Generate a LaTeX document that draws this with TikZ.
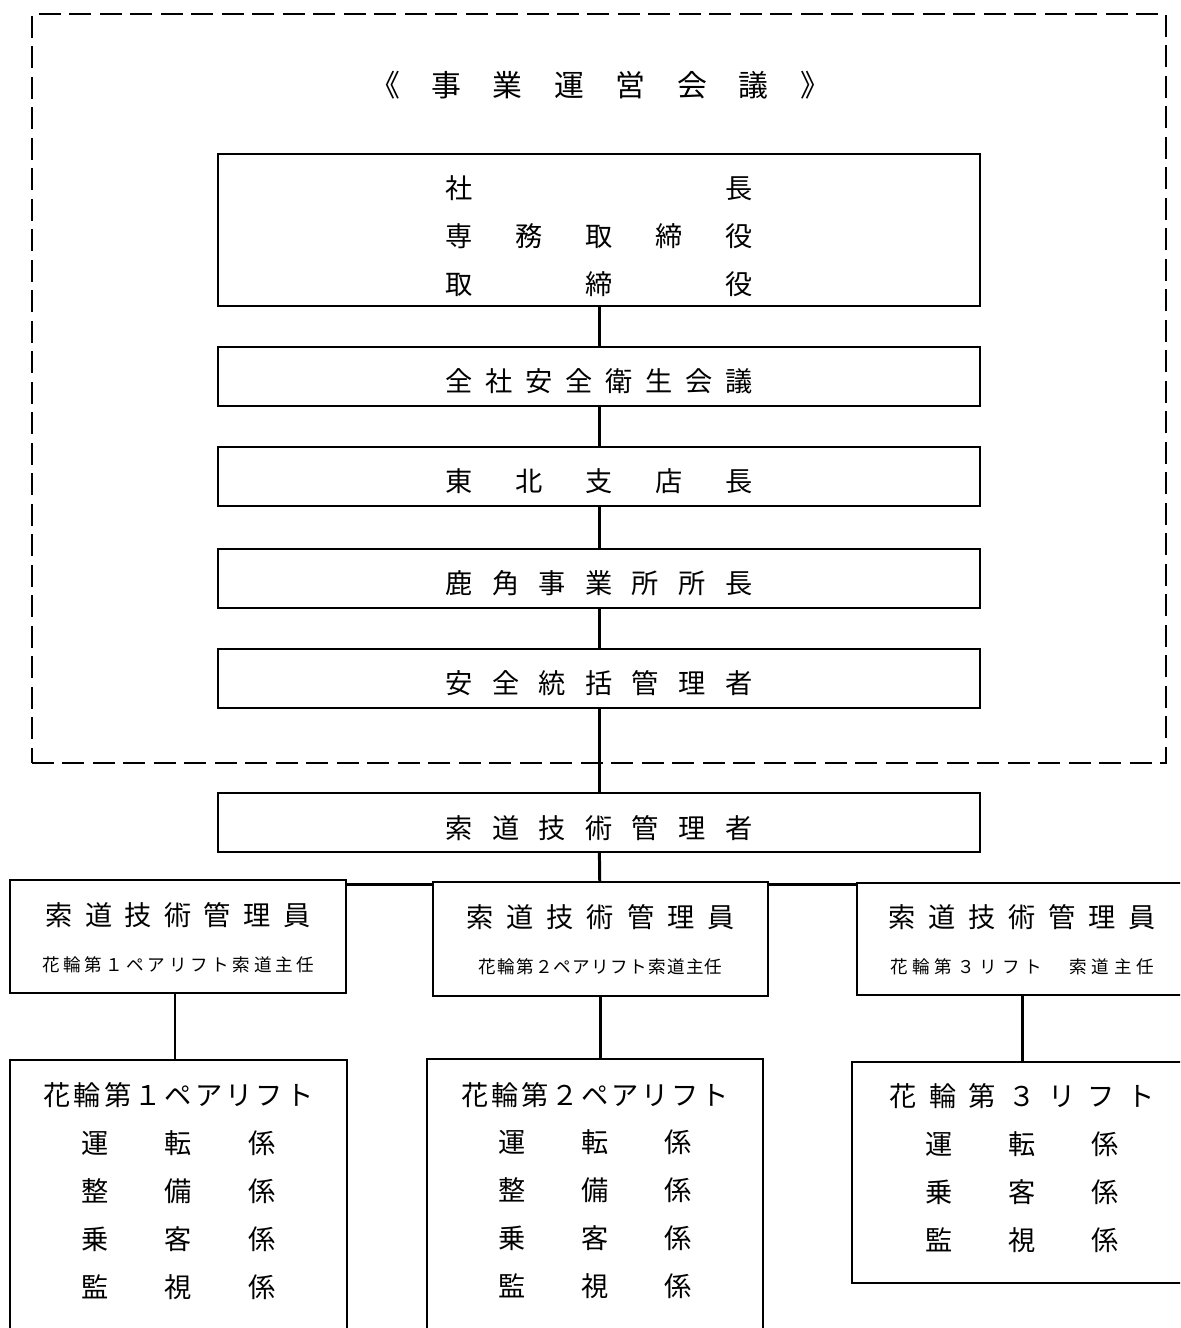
\documentclass[tikz,border=0pt]{standalone}
\usepackage{fontspec}
\setmainfont{Noto Sans CJK JP}
\newlength\unitpx
\setlength\unitpx{0.02cm}
% spread the characters of #3 evenly over #2 px, lowered by #1 px
\newcommand\spreadrow[3][0]{\raisebox{-#1\unitpx}[\height][\depth]{\makebox[#2\unitpx][s]{\spreadfirst#3\relax}}}
\def\spreadfirst#1{#1\spreadnext}
\def\spreadnext#1{\ifx\relax#1\else\hfill#1\expandafter\spreadnext\fi}

\begin{document}
\begin{tikzpicture}[
  x=0.02cm,
  y=-0.02cm,
  font=\fontsize{15.5pt}{27.3pt}\selectfont,
  frame/.style={draw, line width=1.1pt, dash pattern=on 0.44cm off 0.17cm, inner sep=0pt},
  box/.style={draw, line width=0.8pt, inner sep=0pt, align=center},
  mainbox/.style={box, minimum width=762\unitpx, minimum height=59\unitpx},
  link/.style={line width=1.7pt}
]
\useasboundingbox (0,0) rectangle (1180,1328);
\clip (0,0) rectangle (1180,1328);

\node[frame, minimum width=1134\unitpx, minimum height=749\unitpx] (meeting) at (599,388.5) {};
\node (title) at (600,85) {\fontsize{17pt}{20pt}\selectfont\spreadrow{460}{《事業運営会議》}};

\node[box, minimum width=762\unitpx, minimum height=152\unitpx] (board) at (599,230)
  {\spreadrow[6]{307}{社長}\\\spreadrow[6]{307}{専務取締役}\\\spreadrow[6]{307}{取締役}};
\node[mainbox] (safety) at (599,376.5) {\spreadrow[5]{307}{全社安全衛生会議}};
\node[mainbox] (branch) at (599,476.5) {\spreadrow[5]{307}{東北支店長}};
\node[mainbox] (office) at (599,578.5) {\spreadrow[5]{307}{鹿角事業所所長}};
\node[mainbox] (chief) at (599,678.5) {\spreadrow[5]{307}{安全統括管理者}};
\node[mainbox] (techmgr) at (599,822.5) {\spreadrow[6]{307}{索道技術管理者}};

\node[box, minimum width=336\unitpx, minimum height=113\unitpx] (techA) at (178,936.5)
  {\spreadrow[2]{265}{索道技術管理員}\\{\fontsize{10pt}{12pt}\selectfont\spreadrow{272}{花輪第１ペアリフト索道主任}}};
\node[box, minimum width=335\unitpx, minimum height=114\unitpx] (techB) at (600.5,939)
  {\spreadrow[2]{268}{索道技術管理員}\\{\fontsize{10pt}{12pt}\selectfont\spreadrow{244}{花輪第２ペアリフト索道主任}}};
\node[box, minimum width=330\unitpx, minimum height=112\unitpx] (techC) at (1022,939)
  {\spreadrow[2]{268}{索道技術管理員}\\{\fontsize{10pt}{12pt}\selectfont\spreadrow{264}{花輪第３リフト　索道主任}}};

\node[box, minimum width=337\unitpx, minimum height=270\unitpx] (liftA) at (178.5,1195)
  {\spreadrow[-4]{270}{花輪第１ペアリフト}\\\spreadrow[-4]{194}{運転係}\\\spreadrow[-4]{194}{整備係}\\\spreadrow[-4]{194}{乗客係}\\\spreadrow[-4]{194}{監視係}};
\node[box, minimum width=336\unitpx, minimum height=271\unitpx] (liftB) at (595,1194.5)
  {\spreadrow[-4]{267}{花輪第２ペアリフト}\\\spreadrow[-4]{194}{運転係}\\\spreadrow[-4]{194}{整備係}\\\spreadrow[-4]{194}{乗客係}\\\spreadrow[-4]{194}{監視係}};
\node[box, minimum width=340\unitpx, minimum height=221\unitpx] (liftC) at (1022,1172.5)
  {\spreadrow[-4]{265}{花輪第３リフト}\\\spreadrow[-4]{194}{運転係}\\\spreadrow[-4]{194}{乗客係}\\\spreadrow[-4]{194}{監視係}};

\draw[link] (board) -- (safety);
\draw[link] (safety) -- (branch);
\draw[link] (branch) -- (office);
\draw[link] (office) -- (chief);
\draw[link] (chief) -- (techmgr);
\draw[link] (techmgr) -- (techB);
\coordinate (bus) at (600,884);
\draw[link] (techA.east |- bus) -- (techB.west |- bus);
\draw[link] (techB.east |- bus) -- (techC.west |- bus);
\draw[link] ([xshift=-3\unitpx]techA.south) -- ([xshift=-3\unitpx]techA.south |- liftA.north);
\draw[link] (techB.south) -- (techB.south |- liftB.north);
\draw[link] (techC) -- (liftC);

\end{tikzpicture}
\end{document}
